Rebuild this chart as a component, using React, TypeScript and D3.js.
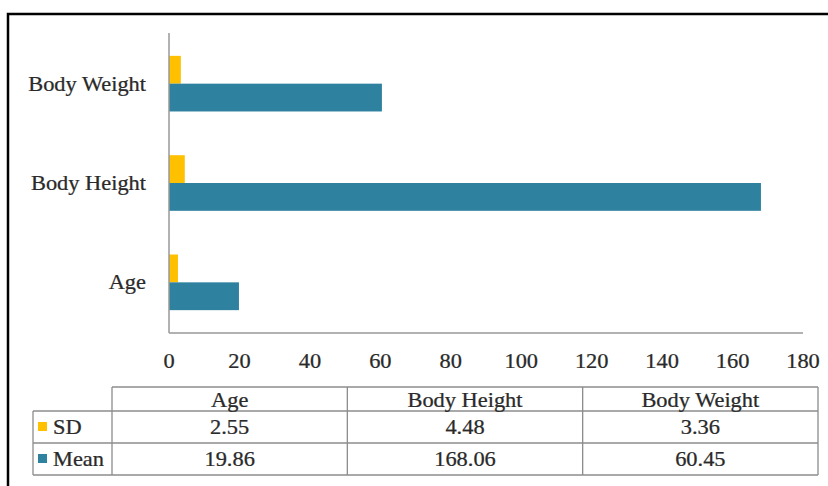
import React from "react";
import * as d3 from "d3";

// Descriptive statistics per measure
const categories = ["Age", "Body Height", "Body Weight"];
const seriesNames = ["SD", "Mean"];
const sdValues = [2.55, 4.48, 3.36];
const meanValues = [19.86, 168.06, 60.45];
const sdLabels = ["2.55", "4.48", "3.36"];
const meanLabels = ["19.86", "168.06", "60.45"];
const xTicks = [0, 20, 40, 60, 80, 100, 120, 140, 160, 180];

const W = 828;
const H = 486;
const COLORS: Record<string, string> = { SD: "#FFC000", Mean: "#2E82A0" };
const FONT = "'Liberation Serif', 'Times New Roman', serif";
const TEXT = "#2a2a2a";
const GRID = "#8c8c8c";

// Serif text drawn slightly widened
function Label({
  x,
  y,
  anchor = "start",
  children,
}: {
  x: number;
  y: number;
  anchor?: "start" | "middle" | "end";
  children: React.ReactNode;
}) {
  return (
    <g transform={`translate(${x},${y}) scale(1.12,1)`}>
      <text
        x={0}
        y={0}
        dy="0.35em"
        textAnchor={anchor}
        fontSize={20}
        fill={TEXT}
        stroke={TEXT}
        strokeWidth={0.25}
      >
        {children}
      </text>
    </g>
  );
}

export default function App() {
  const plot = { left: 169, right: 803, top: 33, bottom: 333 };

  const x = d3.scaleLinear().domain([0, 180]).range([plot.left, plot.right]);
  // Age sits at the bottom, Body Weight at the top
  const y = d3
    .scaleBand<string>()
    .domain([...categories].reverse())
    .range([plot.top, plot.bottom])
    .paddingInner(0.44)
    .paddingOuter(0.23);
  const ySeries = d3
    .scaleBand<string>()
    .domain(seriesNames)
    .range([0, y.bandwidth()]);

  const valuesBySeries: Record<string, number[]> = { SD: sdValues, Mean: meanValues };
  const labelsBySeries: Record<string, string[]> = { SD: sdLabels, Mean: meanLabels };

  // Data table geometry
  const table = { legendLeft: 33, left: 112, right: 818, top: 387, headerBottom: 411, rowH: 32 };
  const col = d3
    .scaleBand<string>()
    .domain(categories)
    .range([table.left, table.right]);
  const rowTop = (i: number) => table.headerBottom + i * table.rowH;
  const tableBottom = rowTop(seriesNames.length);

  return (
    <svg
      width={W}
      height={H}
      style={{ position: "absolute", left: 0, top: 0, background: "#fff" }}
      fontFamily={FONT}
    >
      <rect x={0} y={0} width={W} height={H} fill="#fff" />
      {/* outer frame */}
      <rect x={8} y={14} width={W + 20} height={H + 20} fill="none" stroke="#000" strokeWidth={2.5} />

      {/* bars */}
      {categories.map((c, ci) => (
        <g key={c} transform={`translate(0,${y(c)})`}>
          {seriesNames.map((s) => (
            <rect
              key={s}
              x={x(0)}
              y={ySeries(s)}
              width={x(valuesBySeries[s][ci]) - x(0)}
              height={ySeries.bandwidth()}
              fill={COLORS[s]}
            />
          ))}
        </g>
      ))}

      {/* axes */}
      <line x1={plot.left} x2={plot.left} y1={plot.top} y2={plot.bottom} stroke="#999" strokeWidth={1.5} />
      <line x1={plot.left} x2={plot.right} y1={plot.bottom} y2={plot.bottom} stroke="#999" strokeWidth={1.5} />

      {/* category labels */}
      {categories.map((c) => (
        <Label key={c} x={plot.left - 23} y={(y(c) ?? 0) + y.bandwidth() / 2} anchor="end">
          {c}
        </Label>
      ))}

      {/* x tick labels */}
      {xTicks.map((t) => (
        <Label key={t} x={x(t)} y={361} anchor="middle">
          {t}
        </Label>
      ))}

      {/* data table */}
      <g stroke={GRID} strokeWidth={1.3} fill="none">
        <line x1={table.left} x2={table.right} y1={table.top} y2={table.top} />
        <line x1={table.legendLeft} x2={table.right} y1={table.headerBottom} y2={table.headerBottom} />
        {seriesNames.map((s, i) => (
          <line key={s} x1={table.legendLeft} x2={table.right} y1={rowTop(i + 1)} y2={rowTop(i + 1)} />
        ))}
        <line x1={table.legendLeft} x2={table.legendLeft} y1={table.headerBottom} y2={tableBottom} />
        <line x1={table.left} x2={table.left} y1={table.top} y2={tableBottom} />
        {categories.map((c) => (
          <line
            key={c}
            x1={(col(c) ?? 0) + col.bandwidth()}
            x2={(col(c) ?? 0) + col.bandwidth()}
            y1={table.top}
            y2={tableBottom}
          />
        ))}
      </g>

      {categories.map((c) => (
        <Label
          key={c}
          x={(col(c) ?? 0) + col.bandwidth() / 2}
          y={(table.top + table.headerBottom) / 2 + 1}
          anchor="middle"
        >
          {c}
        </Label>
      ))}

      {seriesNames.map((s, i) => {
        const cy = rowTop(i) + table.rowH / 2;
        return (
          <g key={s}>
            <rect x={38} y={cy - 5} width={9} height={9} fill={COLORS[s]} />
            <Label x={53} y={cy}>
              {s}
            </Label>
            {categories.map((c, ci) => (
              <Label key={c} x={(col(c) ?? 0) + col.bandwidth() / 2} y={cy} anchor="middle">
                {labelsBySeries[s][ci]}
              </Label>
            ))}
          </g>
        );
      })}
    </svg>
  );
}
